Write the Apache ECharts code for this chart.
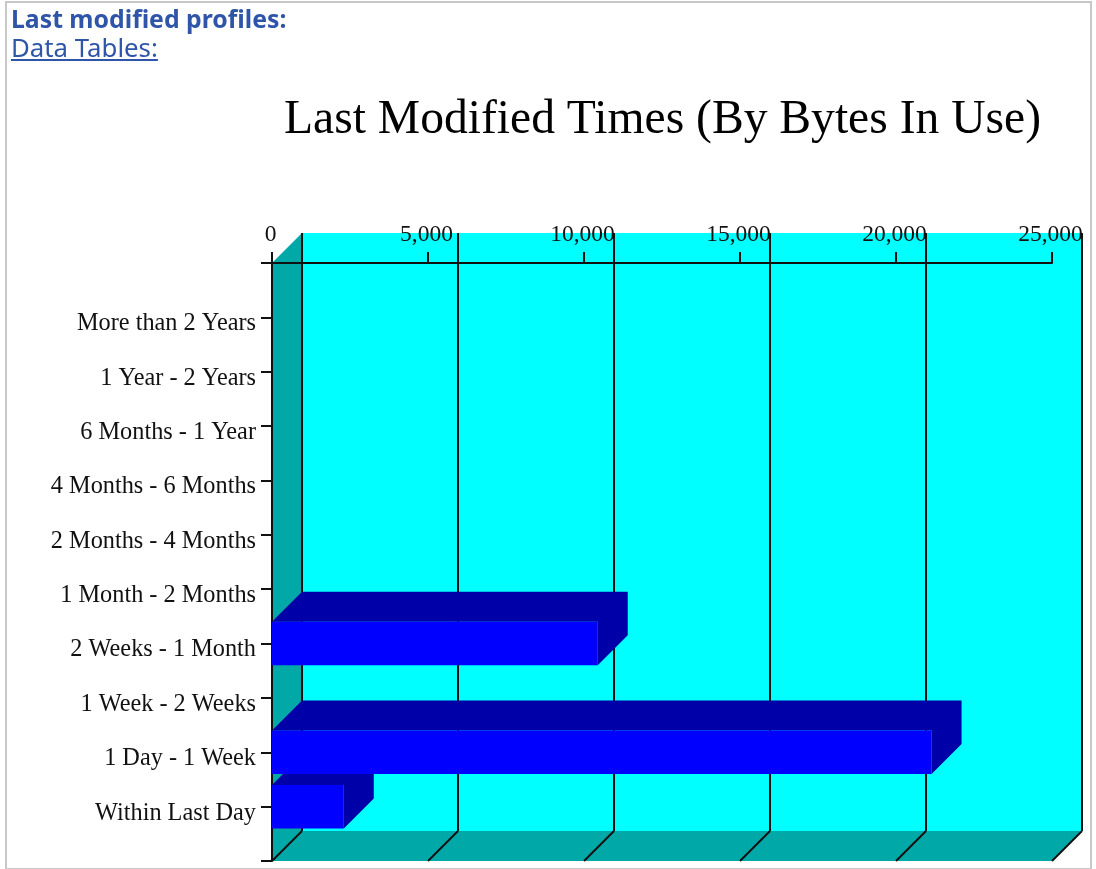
<!DOCTYPE html>
<html>
<head>
<meta charset="utf-8">
<title>Last Modified Times</title>
<script src="https://cdn.jsdelivr.net/npm/echarts@6/dist/echarts.min.js"></script>
<style>
html, body { margin: 0; padding: 0; background: #fff; overflow: hidden; }
.frame {
  position: absolute; left: 5px; top: 1px; width: 1083px; height: 865px;
  border: 2px solid #c8c8c8;
}
.head {
  position: absolute; left: 11px; top: 4px;
  font-family: "Noto Sans", sans-serif; line-height: 29px; color: #2f55a8;
}
.head b { display: block; font-size: 24.8px; }
.head a { color: #2f55a8; text-decoration: underline; font-size: 25.8px; }
#chart { position: absolute; left: 0; top: 0; width: 1096px; height: 869px; }
</style>
</head>
<body>
<div class="frame"></div>
<div id="chart"></div>
<div class="head"><b>Last modified profiles:</b><a href="#">Data Tables:</a></div>
<script>
// bottom to top, same order the bars get painted
const categories = ['Within Last Day', '1 Day - 1 Week', '1 Week - 2 Weeks', '2 Weeks - 1 Month',
  '1 Month - 2 Months', '2 Months - 4 Months', '4 Months - 6 Months', '6 Months - 1 Year',
  '1 Year - 2 Years', 'More than 2 Years']
const bytesInUse = [2300, 21140, 0, 10440, 0, 0, 0, 0, 0, 0]
const xTicks = [0, 5000, 10000, 15000, 20000, 25000]

const DEPTH = 30
const LINE = { stroke: '#111', lineWidth: 2 }

const poly = (points, fill) => ({ type: 'polygon', shape: { points }, style: { fill } })
const line = (a, b) => ({ type: 'line', shape: { x1: a[0], y1: a[1], x2: b[0], y2: b[1] }, style: LINE })

const renderWalls = (params, api) => {
  const topVal = categories.length + 1
  const c00 = api.coord([0, 0])
  const c10 = api.coord([xTicks[xTicks.length - 1], 0])
  const c01 = api.coord([0, topVal])
  const back = (p) => [p[0] + DEPTH, p[1] - DEPTH]
  const children = [
    poly([back(c00), back(c10), [back(c10)[0], back(c01)[1]], back(c01)], '#00ffff'),
    poly([c01, back(c01), back(c00), c00], '#00a8a8'),
    poly([c00, back(c00), back(c10), c10], '#00a8a8')
  ]
  xTicks.forEach((t) => {
    const b = api.coord([t, 0])
    const u = api.coord([t, topVal])
    children.push(line(back(u), back(b)))
    children.push(line(b, back(b)))
  })
  return { type: 'group', children }
}

const renderBar = (params, api) => {
  const val = api.value(0)
  if (!val) return null
  const idx = api.value(1)
  const half = api.size([0, 1])[1] * 0.4
  const start = api.coord([0, idx])
  const end = api.coord([val, idx])
  const x0 = start[0]
  const x1 = end[0]
  const yTop = start[1] - half
  const yBot = start[1] + half
  return {
    type: 'group',
    children: [
      poly([[x0, yTop], [x0 + DEPTH, yTop - DEPTH], [x1 + DEPTH, yTop - DEPTH], [x1 + DEPTH, yBot - DEPTH], [x1, yBot], [x1, yTop]], '#0000a8'),
      poly([[x0, yTop], [x1, yTop], [x1, yBot], [x0, yBot]], '#0000ff')
    ]
  }
}

const chart = echarts.init(document.getElementById('chart'))
const axisFont = { fontFamily: '"Liberation Serif", serif', color: '#111' }
const axisStroke = { lineStyle: { color: '#111', width: 2 } }

chart.setOption({
  animation: false,
  title: {
    text: 'Last Modified Times (By Bytes In Use)',
    left: 279,
    top: 91,
    textStyle: { fontFamily: '"Liberation Serif", serif', fontSize: 47.6, fontWeight: 'normal', color: '#000' }
  },
  grid: { left: 272, top: 263, width: 780, height: 598 },
  xAxis: {
    type: 'value',
    position: 'top',
    min: 0,
    max: 25000,
    interval: 5000,
    z: 1,
    splitLine: { show: false },
    axisLine: { show: true, ...axisStroke },
    axisTick: { show: true, length: 11, ...axisStroke },
    axisLabel: { ...axisFont, fontSize: 23.5, margin: 16, padding: [0, 3, 0, 0], formatter: (v) => v.toLocaleString('en-US') }
  },
  yAxis: {
    type: 'category',
    boundaryGap: false,
    data: ['', ...categories, ''],
    z: 1,
    splitLine: { show: false },
    axisLine: { show: true, ...axisStroke },
    axisTick: { show: true, length: 11, ...axisStroke },
    // labels sit a few px under their tick in the original
    axisLabel: { ...axisFont, fontSize: 24.3, margin: 16, interval: 0, verticalAlign: 'top', lineHeight: 13 }
  },
  series: [
    { type: 'custom', z: 0, silent: true, renderItem: renderWalls, data: [[0, 0]], encode: { x: 0, y: 1 } },
    {
      type: 'custom',
      z: 2,
      renderItem: renderBar,
      data: bytesInUse.map((v, i) => [v, i + 1]),
      encode: { x: 0, y: 1 }
    }
  ]
})
</script>
</body>
</html>
